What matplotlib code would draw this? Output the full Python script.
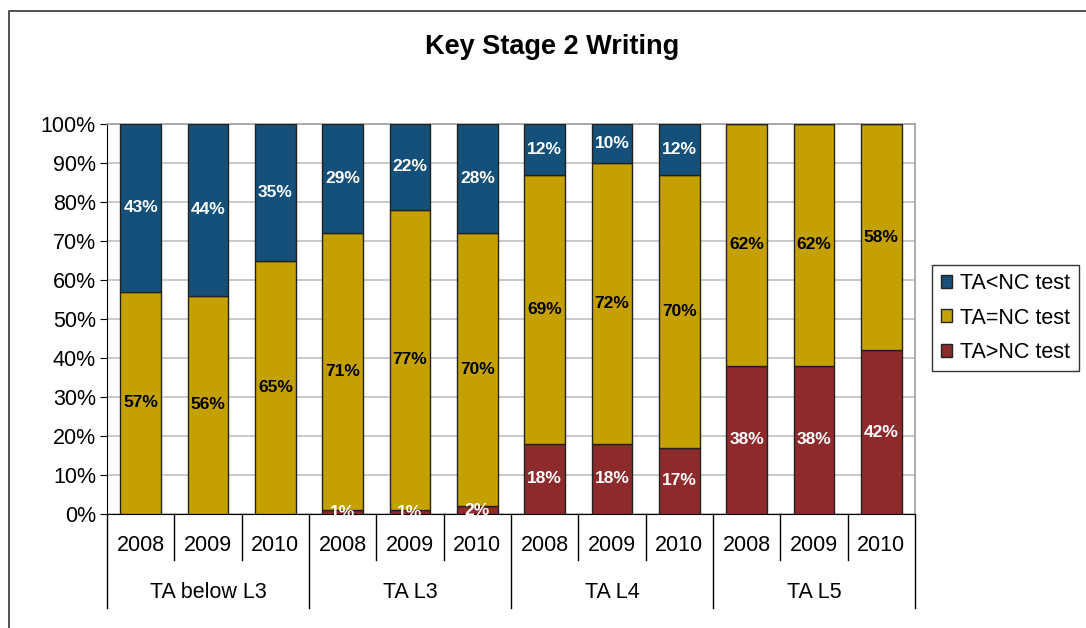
import matplotlib.pyplot as plt
from matplotlib.patches import Rectangle
import matplotlib.transforms as mtransforms

plt.rcParams['font.family'] = ['Liberation Sans', 'DejaVu Sans']

# data
years = ['2008', '2009', '2010'] * 4
groups = ['TA below L3', 'TA L3', 'TA L4', 'TA L5']
below = [0, 0, 0, 1, 1, 2, 18, 18, 17, 38, 38, 42]     # TA>NC test
equal = [57, 56, 65, 71, 77, 70, 69, 72, 70, 62, 62, 58]  # TA=NC test
above = [43, 44, 35, 29, 22, 28, 12, 10, 12, 0, 0, 0]   # TA<NC test

c_blue = '#14507A'
c_gold = '#C4A000'
c_red = '#8C2A2C'
fs = 15.5

fig = plt.figure(figsize=(10.86, 6.28), dpi=100)
ax = fig.add_axes([107/1086, 1-514/628, 808/1086, 390/628])

# outer chart border
fig.patches.append(Rectangle((9/1086, -0.1), 1.2, 1-11/628+0.1, transform=fig.transFigure,
                             fill=False, edgecolor='#333333', lw=1.2))

x = list(range(len(years)))
w = 0.6
mid = [b + e for b, e in zip(below, equal)]
top = [100 - m for m in mid]
ax.bar(x, below, w, color=c_red, edgecolor='#222222', lw=1, label='TA>NC test', zorder=3)
ax.bar(x, equal, w, bottom=below, color=c_gold, edgecolor='#222222', lw=1, label='TA=NC test', zorder=3)
ax.bar(x, top, w, bottom=mid, color=c_blue, edgecolor='#222222', lw=1, label='TA<NC test', zorder=3)

# data labels
for i in x:
    if below[i] > 0:
        ax.text(i, below[i] / 2, f'{below[i]}%', ha='center', va='center', color='white',
                fontsize=12.5, fontweight='bold', zorder=4)
    ax.text(i, below[i] + equal[i] / 2, f'{equal[i]}%', ha='center', va='center', color='black',
            fontsize=12.5, fontweight='bold', zorder=4)
    if above[i] > 0:
        ax.text(i, mid[i] + top[i] / 2, f'{above[i]}%', ha='center', va='center', color='white',
                fontsize=12.5, fontweight='bold', zorder=4)

ax.set_xlim(-0.5, 11.5)
ax.set_ylim(0, 100)
ax.set_yticks(range(0, 101, 10))
ax.set_yticklabels([f'{v}%' for v in range(0, 101, 10)], fontsize=fs)
ax.tick_params(axis='y', length=5, color='black', pad=3)
ax.set_xticks([])
ax.grid(axis='y', color='#c0c0c0', lw=1.2, zorder=0)
for s in ['top', 'right']:
    ax.spines[s].set_color('#a0a0a0')
    ax.spines[s].set_linewidth(1.2)
ax.spines['left'].set_color('black')
ax.spines['bottom'].set_color('black')

# two-level category axis
trans = mtransforms.blended_transform_factory(ax.transData, ax.transAxes)
for k in range(13):
    xs = k - 0.5
    y1 = -0.241 if k % 3 == 0 else -0.118
    ax.plot([xs, xs], [0, y1], color='black', lw=1, transform=trans, clip_on=False)
for i in x:
    ax.text(i, -0.082, years[i], ha='center', va='center', fontsize=fs, transform=trans)
for g, name in enumerate(groups):
    ax.text(3 * g + 1, -0.2, name, ha='center', va='center', fontsize=fs, transform=trans)

fig.text(552/1086, 1 - 47/628, 'Key Stage 2 Writing', ha='center', va='center',
         fontsize=19.5, fontweight='bold')

h, l = ax.get_legend_handles_labels()
leg = fig.legend(h[::-1], l[::-1], loc='center left', bbox_to_anchor=(932/1086, 1 - 318/628),
                 fontsize=fs, frameon=True, fancybox=False, edgecolor='black',
                 handlelength=0.55, handleheight=0.55, handletextpad=0.35, labelspacing=0.62,
                 borderpad=0.4, borderaxespad=0)
leg.get_frame().set_linewidth(1)

fig.savefig('out.png', dpi=100)
